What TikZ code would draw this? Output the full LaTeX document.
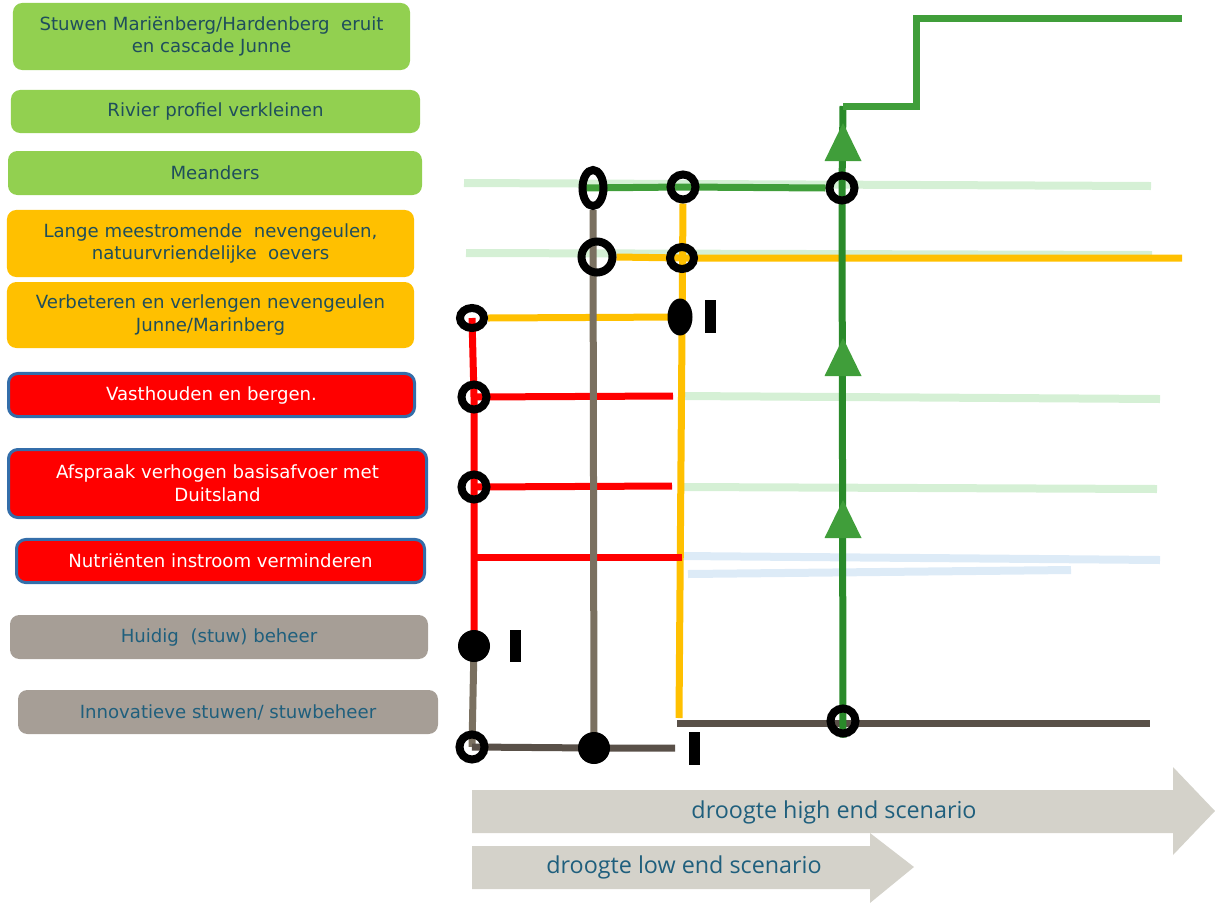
\documentclass[tikz,border=0pt]{standalone}
\usepackage{fontspec}
\setmainfont{DejaVu Sans}
\newfontfamily\scenfont{Open Sans}
\usetikzlibrary{shapes.geometric,backgrounds}

\definecolor{boxgreen}{RGB}{146,208,80}
\definecolor{boxorange}{RGB}{255,192,0}
\definecolor{boxblue}{RGB}{52,110,170}
\definecolor{boxgrey}{RGB}{166,158,150}
\definecolor{boxtext}{RGB}{31,78,92}
\definecolor{greytext}{RGB}{31,95,125}
\definecolor{scengrey}{RGB}{212,210,202}
\definecolor{metred}{RGB}{255,0,0}
\definecolor{metorange}{RGB}{255,192,0}
\definecolor{metbrown}{RGB}{122,112,96}
\definecolor{metdark}{RGB}{89,80,72}
\definecolor{metgreen}{RGB}{64,158,58}
\definecolor{metgreendk}{RGB}{42,138,42}
\definecolor{palegreen}{RGB}{213,240,213}
\definecolor{paleblue}{RGB}{221,235,247}

\begin{document}
\begin{tikzpicture}[x=0.75pt,y=-0.75pt,
  box/.style={rounded corners=7pt, inner sep=0pt, align=center, text=boxtext,
    font=\fontsize{13.6}{17}\selectfont},
  gbox/.style={box, fill=boxgreen},
  obox/.style={box, fill=boxorange},
  rbox/.style={box, fill=metred, draw=boxblue, line width=2.25pt, text=white},
  bbox/.style={box, fill=boxgrey, text=greytext},
  ring/.style={ellipse, draw=black, line width=6pt, inner sep=0pt,
    minimum width=18.75pt, minimum height=18.75pt},
  dot/.style={ellipse, fill=black, inner sep=0pt, minimum width=24pt, minimum height=24pt},
  bar/.style={rectangle, fill=black, inner sep=0pt, minimum width=8.25pt, minimum height=24.5pt},
  track/.style={line width=5.25pt},
  pale/.style={line width=6pt},
  scen/.style={text=greytext, font=\scenfont\fontsize{17.5}{20}\selectfont}]
\useasboundingbox (0,0) rectangle (1215,908);

% measures
\node[gbox, minimum width=297.8pt, minimum height=50.3pt] (m1) at (211.5,36.5)
  {Stuwen Mariënberg/Hardenberg\ \ eruit\\en cascade Junne};
\node[gbox, minimum width=306.8pt, minimum height=32.3pt] (m2) at (215.5,111.5)
  {Rivier profiel verkleinen};
\node[gbox, minimum width=310.5pt, minimum height=33pt] (m3) at (215,173) {Meanders};
\node[obox, minimum width=305.3pt, minimum height=50.3pt] (m4) at (210.5,243.5)
  {Lange meestromende\ \ nevengeulen,\\natuurvriendelijke\ \ oevers};
\node[obox, minimum width=305.3pt, minimum height=49.5pt] (m5) at (210.5,315)
  {Verbeteren en verlengen nevengeulen\\Junne/Marinberg};
\node[rbox, minimum width=304.5pt, minimum height=32.3pt] (m6) at (211.5,395)
  {Vasthouden en bergen.};
\node[rbox, minimum width=313.5pt, minimum height=51pt] (m7) at (217.5,483.5)
  {Afspraak verhogen basisafvoer met\\Duitsland};
\node[rbox, minimum width=306pt, minimum height=32.3pt] (m8) at (220.5,561)
  {Nutriënten instroom verminderen};
\node[bbox, minimum width=313.5pt, minimum height=33pt] (m9) at (219,637)
  {Huidig\ \ (stuw) beheer};
\node[bbox, minimum width=315pt, minimum height=33pt] (m10) at (228,712)
  {Innovatieve stuwen/ stuwbeheer};

% stations
\node[ring, minimum width=15.75pt, minimum height=27pt] (s1) at (593,188) {};
\node[ring] (s2) at (683,187) {};
\node[ring, minimum width=23.25pt, minimum height=23.25pt] (s3) at (597,257) {};
\node[ring, minimum width=18pt, minimum height=16.5pt] (s4) at (682,258) {};
\node[ring, minimum width=18pt, minimum height=15pt] (s5) at (472,318) {};
\node[ring] (s6) at (474,397) {};
\node[ring] (s7) at (474,487) {};
\node[ring] (s8) at (472,747) {};
\node[ring] (s9) at (842,188) {};
\node[ring] (s10) at (843,721) {};
\node[dot, minimum width=18.75pt, minimum height=27.75pt] (d1) at (680,317) {};
\node[dot] (d2) at (474,646) {};
\node[dot] (d3) at (594,748) {};
\node[bar] (b1) at (710.5,316.5) {};
\node[bar] (b2) at (515.5,646) {};
\node[bar] (b3) at (694.5,748.5) {};

\coordinate (r1) at (673,396);
\coordinate (r2) at (672,486);
\coordinate (r3a) at (474,557);
\coordinate (r3b) at (682,557);
\coordinate (o1) at (679,718);
\coordinate (o2) at (1182,258);
\coordinate (g1) at (675,748);
\coordinate (g2) at (677,723);
\coordinate (g3) at (1150,723);
\coordinate (k0) at (582,188);
\coordinate (k1) at (843,106);
\coordinate (k2) at (916,106);
\coordinate (k3) at (916,18);
\coordinate (k4) at (1182,18);

% lines
\scope[on background layer]
\draw[pale, palegreen] (464,183) -- (1151,186);
\draw[pale, palegreen] (466,253) -- (1152,255);
\draw[pale, palegreen] (682,396) -- (1160,399);
\draw[pale, palegreen] (682,487) -- (1157,489);
\draw[pale, paleblue] (682,556) -- (1160,560);
\draw[pale, paleblue] (688,574) -- (1071,570);
\draw[track, metorange] (s2.south) -- (o1);
\draw[track, metorange] (s5.east) -- (d1.center);
\draw[track, metorange] (s3.east) -- (s4.center) -- (o2);
\draw[track, metred] (s5.center) -- (s6.center) -- (s7.center) -- (d2.center);
\draw[track, metred] (s6.center) -- (r1);
\draw[track, metred] (s7.center) -- (r2);
\draw[track, metred] (r3a) -- (r3b);
\draw[track, metbrown] (s1.south) -- (d3.center);
\draw[track, metbrown] (d2.center) -- (s8.center);
\draw[track, metdark] (s8.center) -- (d3.center) -- (g1);
\draw[track, metdark] (g2) -- (g3);
\draw[track, metgreen] (k0) -- (s2.center) -- (s9.west);
\draw[track, metgreendk] (s10.south) -- (s9.center) -- (k1);
\draw[track, metgreen] (k1) -- (k2) -- (k3) -- (k4);
\foreach \t in {123,338,500}
  \fill[metgreen] (824.5,\t+38) -- (843,\t) -- (861.5,\t+38) -- cycle;
\endscope

% scenarios
\fill[scengrey] (472,790) -- (1173,790) -- (1173,767) -- (1215,811) -- (1173,855)
  -- (1173,833) -- (472,833) -- cycle;
\fill[scengrey] (472,846) -- (870,846) -- (870,833) -- (914,867) -- (870,903)
  -- (870,889) -- (472,889) -- cycle;
\node[scen] (high) at (834,812) {droogte high end scenario};
\node[scen] (low) at (684,867) {droogte low end scenario};
\end{tikzpicture}
\end{document}
